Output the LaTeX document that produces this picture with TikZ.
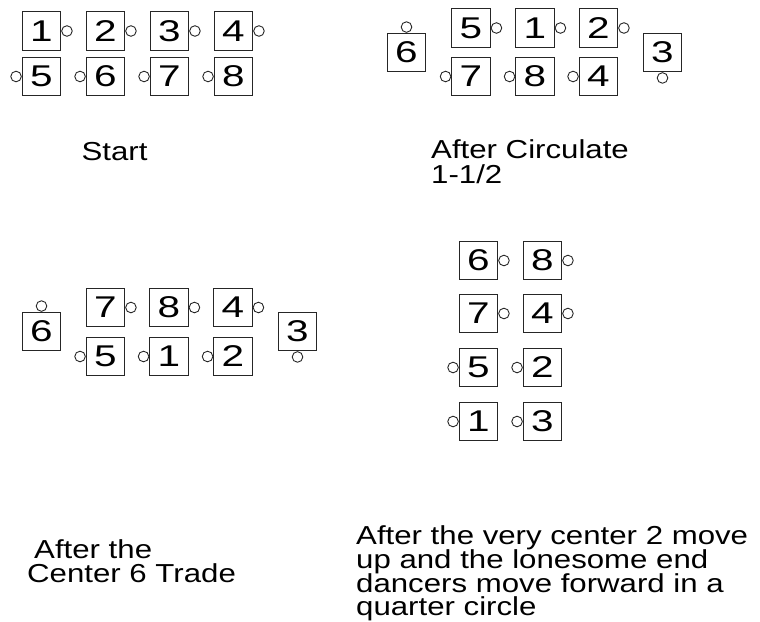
\documentclass[tikz,border=0pt]{standalone}
\usepackage{fontspec}
\setmainfont{Liberation Sans}
\newfontfamily\digfont[FakeStretch=1.35]{Liberation Sans}
\newfontfamily\lblfont[FakeStretch=1.2]{Liberation Sans}
\tikzset{
  dbox/.style={draw=black!85, line width=0.9pt, minimum size=38.5pt, inner sep=0pt,
    font=\digfont\fontsize{30}{30}\selectfont},
  dot/.style={draw=black!85, line width=0.9pt, circle, minimum size=10.6pt, inner sep=0pt},
  lbl/.style={inner sep=0pt, font=\lblfont\fontsize{26}{26}\selectfont}
}
\newcommand\dancer[6]{%
  \node[dbox] (#1) at (#2,#3) {#4};
  \node[dot, anchor=#6] (#1c) at (#1.#5) {};
}
\begin{document}
\begin{tikzpicture}[x=1pt,y=-1pt]
\useasboundingbox (0,0) rectangle (760,621);
% Start
\dancer{a1}{41.5}{31}{1}{east}{west}
\dancer{a2}{105.5}{31}{2}{east}{west}
\dancer{a3}{169.5}{31}{3}{east}{west}
\dancer{a4}{233.5}{31}{4}{east}{west}
\dancer{a5}{41.5}{76.5}{5}{west}{east}
\dancer{a6}{105.5}{76.5}{6}{west}{east}
\dancer{a7}{169.5}{76.5}{7}{west}{east}
\dancer{a8}{233.5}{76.5}{8}{west}{east}
\node[lbl, anchor=base] (la) at (114.5,160) {Start};
% After Circulate
\dancer{b6}{406.5}{52.5}{6}{north}{south}
\dancer{b5}{471}{28}{5}{east}{west}
\dancer{b1}{535}{28}{1}{east}{west}
\dancer{b2}{598.5}{28}{2}{east}{west}
\dancer{b7}{471}{76.5}{7}{west}{east}
\dancer{b8}{535}{76.5}{8}{west}{east}
\dancer{b4}{598.5}{76.5}{4}{west}{east}
\dancer{b3}{662.5}{52.5}{3}{south}{north}
\node[lbl, anchor=base west] (lb1) at (431,158) {After Circulate};
\node[lbl, anchor=base west] (lb2) at (431,183) {1-1/2};
% After the Center 6 Trade
\dancer{c6}{41.5}{331.5}{6}{north}{south}
\dancer{c7}{105.5}{307.5}{7}{east}{west}
\dancer{c8}{169}{307.5}{8}{east}{west}
\dancer{c4}{233}{307.5}{4}{east}{west}
\dancer{c5}{105.5}{356.5}{5}{west}{east}
\dancer{c1}{169}{356.5}{1}{west}{east}
\dancer{c2}{233}{356.5}{2}{west}{east}
\dancer{c3}{297.5}{331.5}{3}{south}{north}
\node[lbl, anchor=base west] (lc1) at (34,558) {After the};
\node[lbl, anchor=base west] (lc2) at (27,582) {Center 6 Trade};
% Final
\dancer{d6}{478.5}{260.5}{6}{east}{west}
\dancer{d8}{542.5}{260.5}{8}{east}{west}
\dancer{d7}{478.5}{313.5}{7}{east}{west}
\dancer{d4}{542.5}{313.5}{4}{east}{west}
\dancer{d5}{478.5}{367.5}{5}{west}{east}
\dancer{d2}{542.5}{367.5}{2}{west}{east}
\dancer{d1}{478.5}{421.5}{1}{west}{east}
\dancer{d3}{542.5}{421.5}{3}{west}{east}
\node[lbl, anchor=base west] (ld1) at (356,544) {After the very center 2 move};
\node[lbl, anchor=base west] (ld2) at (356,568) {up and the lonesome end};
\node[lbl, anchor=base west] (ld3) at (356,592) {dancers move forward in a};
\node[lbl, anchor=base west] (ld4) at (356,615) {quarter circle};
\end{tikzpicture}
\end{document}
